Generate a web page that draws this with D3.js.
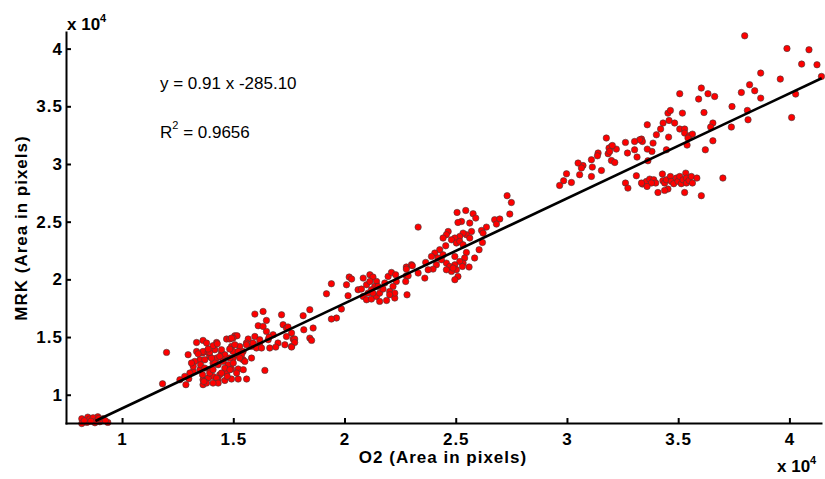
<!DOCTYPE html>
<html><head><meta charset="utf-8">
<script src="https://cdn.jsdelivr.net/npm/d3@7"></script>
<style>
body{margin:0;background:#fff}
svg{display:block}
text{font-family:Arial,"Liberation Sans",Helvetica,sans-serif}
</style>
</head><body>
<svg id="chart" width="825" height="479"></svg>
<script>
// values in units of 10^4 pixels
const xTicks = [1, 1.5, 2, 2.5, 3, 3.5, 4];
const yTicks = [1, 1.5, 2, 2.5, 3, 3.5, 4];
const xLabel = "O2 (Area in pixels)";
const yLabel = "MRK (Area in pixels)";
const fitSlope = 0.91;
const fitIntercept = -285.10; // raw pixels
const fitR2 = "0.9656";
const fitXRange = [0.88, 4.145];

const groupA = [[0.819,0.792],[0.819,0.750],[0.846,0.806],[0.864,0.783],[0.891,0.809],[0.900,0.766],[0.936,0.760],[0.878,0.757],[0.842,0.760],[0.914,0.792],[0.855,0.790],[0.870,0.800],[0.885,0.775],[0.905,0.785],[0.925,0.775],[0.860,0.770],[0.830,0.775],[0.895,0.795]];

const groupB = [[1.200,1.367],[1.182,1.095],[1.287,1.087],[1.297,1.347],[1.335,1.453],[1.364,1.471],[1.425,1.453],[1.507,1.511],[1.517,1.511],[1.597,1.699],[1.634,1.722],[1.717,1.693],[1.612,1.598],[1.649,1.644],[1.724,1.607],[1.739,1.578],[1.769,1.483],[1.762,1.419],[1.732,1.433],[1.642,1.211],[1.560,1.136],[1.522,1.136],[1.492,1.136],[1.462,1.124],[1.425,1.115],[1.364,1.087],[1.364,1.130],[1.522,1.223],[1.492,1.223],[1.447,1.361],[1.462,1.347],[1.499,1.318],[1.515,1.347],[1.544,1.375],[1.582,1.419],[1.604,1.405],[1.619,1.448],[1.657,1.477],[1.679,1.520],[1.701,1.448],[1.664,1.405],[1.582,1.318],[1.544,1.303],[1.567,1.483],[1.559,1.448],[1.597,1.505],[1.470,1.483],[1.417,1.390],[1.380,1.375],[1.350,1.303],[1.335,1.375],[1.327,1.289],[1.320,1.202],[1.350,1.217],[1.394,1.217],[1.409,1.275],[1.432,1.260],[1.439,1.173],[1.470,1.188],[1.409,1.159],[1.387,1.145],[1.380,1.101],[1.432,1.130],[1.477,1.260],[1.454,1.303],[1.425,1.318],[1.394,1.332],[1.372,1.303],[1.499,1.375],[1.529,1.419],[1.492,1.419],[1.762,1.535],[1.260,1.130],[1.300,1.139],[1.362,1.361],
[1.859,1.578],[1.817,1.563],[1.844,1.491],[1.852,1.471],[1.776,1.483],[1.776,1.453],[1.762,1.413],[1.739,1.505],[1.746,1.587],[1.691,1.413],[1.661,1.500],[1.649,1.549],[1.634,1.592],[1.619,1.477],[1.589,1.448],[1.559,1.433],[1.499,1.491],[1.484,1.483],[1.507,1.433],[1.627,1.405],[1.537,1.347],[1.409,1.425],[1.364,1.375],[1.387,1.367],
[1.342,1.355],[1.353,1.260],[1.372,1.231],[1.362,1.173],[1.368,1.115],[1.394,1.188],[1.409,1.217],[1.417,1.275],[1.402,1.318],[1.394,1.367],[1.428,1.442],[1.447,1.390],[1.439,1.332],[1.454,1.289],[1.462,1.231],[1.447,1.188],[1.425,1.144],[1.432,1.101],[1.409,1.101],[1.473,1.159],[1.485,1.217],[1.500,1.275],[1.484,1.318],[1.484,1.396],[1.492,1.491],[1.522,1.375],[1.529,1.318],[1.515,1.188],[1.545,1.217],[1.552,1.289],[1.305,1.188],[1.320,1.246],[1.312,1.275],[1.282,1.159],[1.380,1.448],[1.387,1.396]];

const groupC = [[1.919,1.875],[2.016,1.858],[1.986,1.743],[1.964,1.665],[1.941,1.656],[1.844,1.737],[1.814,1.685],[1.941,1.962],[2.009,1.953],[2.021,2.020],[2.032,2.003],[2.084,2.011],[2.061,1.910],[2.099,1.953],[2.114,2.040],[2.128,2.020],[2.144,1.982],[2.136,1.939],[2.121,1.910],[2.106,1.881],[2.084,1.852],[2.099,1.823],[2.121,1.829],[2.144,1.852],[2.158,1.881],[2.158,1.809],[2.189,1.817],[2.173,1.916],[2.181,1.968],[2.196,2.025],[2.211,2.060],[2.230,2.040],[2.233,1.982],[2.218,1.939],[2.203,1.895],[2.226,1.838],[2.226,1.881],[2.203,1.867],[2.278,2.107],[2.301,2.127],[2.331,2.055],[2.278,2.031],[2.275,1.982],[2.281,1.866],[2.076,1.916],[2.114,1.982],[2.151,1.939],[2.128,1.881]];

const groupD = [[2.731,2.725],[2.750,2.666],[2.743,2.566],[2.331,2.453],[2.506,2.580],[2.545,2.597],[2.578,2.569],[2.590,2.531],[2.563,2.488],[2.526,2.502],[2.510,2.493],[2.675,2.517],[2.698,2.523],[2.683,2.479],[2.638,2.453],[2.616,2.424],[2.623,2.401],[2.571,2.415],[2.548,2.387],[2.533,2.401],[2.518,2.372],[2.496,2.358],[2.466,2.415],[2.458,2.387],[2.443,2.358],[2.481,2.343],[2.503,2.315],[2.518,2.329],[2.533,2.300],[2.563,2.358],[2.620,2.320],[2.605,2.257],[2.585,2.185],[2.548,2.233],[2.540,2.185],[2.533,2.141],[2.518,2.155],[2.496,2.198],[2.496,2.126],[2.503,2.083],[2.510,2.025],[2.496,1.997],[2.481,2.069],[2.458,2.141],[2.473,2.112],[2.488,2.098],[2.560,2.107],[2.530,2.112],[2.455,2.291],[2.428,2.257],[2.406,2.228],[2.391,2.199],[2.420,2.185],[2.436,2.170],[2.443,2.213],[2.413,2.126],[2.398,2.089],[2.376,2.083],[2.365,2.147],[2.305,2.118],[2.278,2.089],[2.286,2.031],[2.361,2.011],[2.458,2.083]];

const groupE = [[3.799,4.111],[3.989,4.001],[4.088,3.990],[4.055,3.866],[4.124,3.860],[4.144,3.759],[3.871,3.788],[3.959,3.736],[4.028,3.606],[4.010,3.403],[3.821,3.687],[3.844,3.635],[3.784,3.620],[3.871,3.571],[3.742,3.498],[3.811,3.464],[3.814,3.383],[3.739,3.320],[3.604,3.658],[3.634,3.609],[3.664,3.585],[3.592,3.563],[3.507,3.609],[3.616,3.446],[3.454,3.441],[3.465,3.464],[3.519,3.441],[3.459,3.377],[3.484,3.355],[3.507,3.303],[3.529,3.303],[3.529,3.268],[3.551,3.245],[3.564,3.259],[3.544,3.225],[3.540,3.164],[3.656,3.355],[3.646,3.320],[3.656,3.201],[3.622,3.123],[3.432,3.355],[3.421,3.303],[3.457,3.233],[3.402,3.253],[3.387,3.181],[3.361,3.340],[3.447,3.123],[3.364,3.028],[3.382,3.109],[3.361,3.129],[3.335,3.216],[3.339,3.195],[3.327,3.210],[3.304,3.195],[3.304,3.123],[3.315,3.060],[3.272,3.095],[3.263,3.187],[3.222,3.129],[3.200,3.152],[3.189,3.138],[3.185,3.089],[3.204,3.160],[3.192,3.109],[3.200,3.030],[3.215,3.013],[3.177,3.225],[3.140,3.095],[3.137,3.071],[3.155,2.944],[3.110,3.037],[3.072,2.987],[3.050,3.008],[3.065,2.965],[3.114,2.973],[3.057,2.907],[3.110,2.892],[2.998,2.915],[2.985,2.855],[2.967,2.814],[3.020,2.840],[3.312,2.898],[3.263,2.835],[3.274,2.791],[3.701,2.878],[3.604,2.725]];

const groupF = [[3.339,2.826],[3.357,2.849],[3.372,2.869],[3.390,2.863],[3.399,2.835],[3.409,2.753],[3.429,2.913],[3.431,2.855],[3.439,2.835],[3.447,2.863],[3.454,2.783],[3.439,2.771],[3.465,2.892],[3.469,2.849],[3.480,2.829],[3.492,2.878],[3.499,2.849],[3.507,2.892],[3.514,2.829],[3.522,2.863],[3.534,2.921],[3.537,2.878],[3.537,2.835],[3.549,2.857],[3.559,2.892],[3.564,2.835],[3.529,2.753],[3.584,2.878],[3.380,2.835],[3.360,2.805],[3.335,2.835]];

const points = [].concat(groupA, groupB, groupC, groupD, groupE, groupF);

const svg = d3.select("#chart");
const x = d3.scaleLinear().domain([0.748, 4.142]).range([66, 821]);
const y = d3.scaleLinear().domain([0.755, 4.144]).range([423, 32]);

const fontTick = "bold 17px Arial, 'Liberation Sans', sans-serif";

// points
svg.append("g").selectAll("circle").data(points).join("circle")
  .attr("cx", d => x(d[0])).attr("cy", d => y(d[1])).attr("r", 3.2)
  .attr("fill", "#ff0000").attr("stroke", "#3c3c3c").attr("stroke-width", 0.6);

// fit line
const fitLine = d3.line().x(d => x(d)).y(d => y(fitSlope * d + fitIntercept / 1e4));
svg.append("path").attr("d", fitLine(fitXRange)).attr("fill", "none")
  .attr("stroke", "#000").attr("stroke-width", 2.6);

// axes
const xAxis = d3.axisBottom(x).tickValues(xTicks).tickFormat(d => String(d))
  .tickSizeInner(-5).tickSizeOuter(0).tickPadding(10);
const yAxis = d3.axisLeft(y).tickValues(yTicks).tickFormat(d => String(d))
  .tickSizeInner(-5).tickSizeOuter(0).tickPadding(3);

const gx = svg.append("g").attr("transform", "translate(0,423)").call(xAxis);
const gy = svg.append("g").attr("transform", "translate(66,0)").call(yAxis);
[gx, gy].forEach(g => {
  g.select(".domain").attr("stroke", "#000").attr("stroke-width", 2).attr("stroke-linecap", "square");
  g.selectAll(".tick line").attr("stroke", "#000").attr("stroke-width", 2);
  g.selectAll(".tick text").attr("fill", "#000").style("font", fontTick).style("letter-spacing", "1px");
});

// axis labels
svg.append("text").attr("x", 443).attr("y", 463).attr("text-anchor", "middle")
  .style("font", fontTick).style("letter-spacing", "1px").text(xLabel);
svg.append("text").attr("transform", "translate(27,228) rotate(-90)").attr("text-anchor", "middle")
  .style("font", fontTick).style("letter-spacing", "1px").text(yLabel);

// multipliers
function mult(px, py) {
  const t = svg.append("text").attr("x", px).attr("y", py).style("font", fontTick);
  t.append("tspan").text("x 10");
  t.append("tspan").attr("dy", -8).style("font-size", "11px").text("4");
}
mult(67, 30);
mult(777, 472);

// equation
const eq = "y = " + fitSlope.toFixed(2) + " x " + fitIntercept.toFixed(2);
svg.append("text").attr("x", 160).attr("y", 89).style("font-size", "17px").text(eq);
const r = svg.append("text").attr("x", 160).attr("y", 138).style("font-size", "17px");
r.append("tspan").text("R");
r.append("tspan").attr("dy", -9).style("font-size", "11px").text("2");
r.append("tspan").attr("dy", 9).text(" = " + fitR2);
</script>
</body></html>
